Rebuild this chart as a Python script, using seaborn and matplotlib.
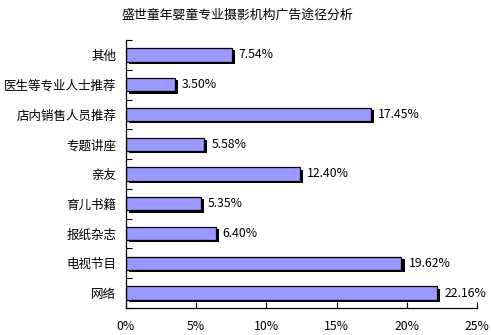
import matplotlib
matplotlib.use("Agg")
import matplotlib.pyplot as plt
import matplotlib.patheffects as pe
from matplotlib.ticker import FixedLocator, PercentFormatter
import seaborn as sns
import pandas as pd
import numpy as np

title = "盛世童年婴童专业摄影机构广告途径分析"
channels = ["其他", "医生等专业人士推荐", "店内销售人员推荐", "专题讲座", "亲友",
            "育儿书籍", "报纸杂志", "电视节目", "网络"]
shares = [7.54, 3.50, 17.45, 5.58, 12.40, 5.35, 6.40, 19.62, 22.16]
x_ticks = [0, 5, 10, 15, 20, 25]

sns.set_theme(style="white")
plt.rcParams["font.family"] = ["Noto Sans CJK SC", "DejaVu Sans"]

df = pd.DataFrame({"channel": channels, "share": shares})

fig = plt.figure(figsize=(4.91, 3.35), dpi=100)
ax = fig.add_axes([0.2566, 0.0806, 0.7149, 0.8000])

sns.barplot(data=df, x="share", y="channel", order=channels, orient="h",
            color="#9999FF", saturation=1, width=0.45,
            edgecolor="black", linewidth=0.9, ax=ax)

# solid black drop shadow under each bar
for bar in ax.patches:
    bar.set_path_effects([pe.SimplePatchShadow(offset=(2.2, -1.6),
                                               shadow_rgbFace="black", alpha=1.0),
                          pe.Normal()])

for i, v in enumerate(shares):
    ax.annotate(f"{v:.2f}%", xy=(v, i), xytext=(5, 0), textcoords="offset points",
                ha="left", va="center", fontsize=8.8, color="black")

ax.set_xlim(0, 25)
ax.set_ylim(len(channels) - 0.5, -0.5)
ax.xaxis.set_major_locator(FixedLocator(x_ticks))
ax.xaxis.set_major_formatter(PercentFormatter(decimals=0))
ax.set_yticks(range(len(channels)))
ax.set_yticks(np.arange(-0.5, len(channels), 1.0), minor=True)
ax.set_xlabel("")
ax.set_ylabel("")

ax.tick_params(axis="x", which="major", direction="in", length=4, width=0.8,
               colors="black", labelsize=8.8, pad=9, bottom=True)
ax.tick_params(axis="y", which="major", length=0, labelsize=9, pad=7,
               colors="black")
ax.tick_params(axis="y", which="minor", direction="in", length=4, width=0.8,
               color="black", left=True)

for side in ["top", "right"]:
    ax.spines[side].set_visible(False)
for side in ["left", "bottom"]:
    ax.spines[side].set_color("black")
    ax.spines[side].set_linewidth(0.9)

fig.text(0.483, 0.955, title, ha="center", va="center", fontsize=9.3, color="black")

fig.savefig("out.png", dpi=100, facecolor="white")
